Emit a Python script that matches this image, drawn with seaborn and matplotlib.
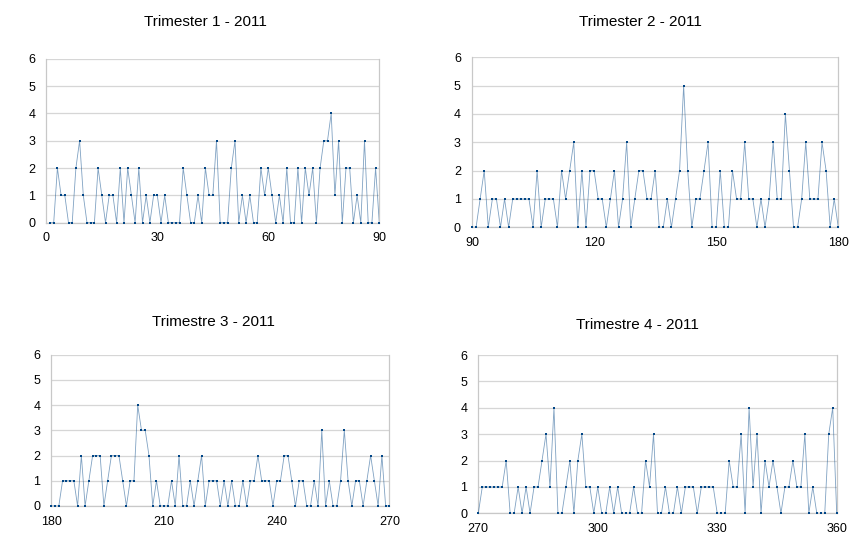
import matplotlib
matplotlib.use("Agg")
import matplotlib.pyplot as plt
import seaborn as sns
import pandas as pd
import numpy as np

# Daily counts per quarter of 2011
days_q1 = list(range(1, 91))
counts_q1 = [0, 0, 2, 1, 1, 0, 0, 2, 3, 1,
             0, 0, 0, 2, 1, 0, 1, 1, 0, 2,
             0, 2, 1, 0, 2, 0, 1, 0, 1, 1,
             0, 1, 0, 0, 0, 0, 2, 1, 0, 0,
             1, 0, 2, 1, 1, 3, 0, 0, 0, 2,
             3, 0, 1, 0, 1, 0, 0, 2, 1, 2,
             1, 0, 1, 0, 2, 0, 0, 2, 0, 2,
             1, 2, 0, 2, 3, 3, 4, 1, 3, 0,
             2, 2, 0, 1, 0, 3, 0, 0, 2, 0]

days_q2 = list(range(90, 181))
counts_q2 = [0, 0, 1, 2, 0, 1, 1, 0, 1, 0, 1, 1, 1, 1, 1, 0, 2, 0, 1, 1, 1, 0, 2, 1, 2, 3, 0, 2,
             0, 2, 2, 1, 1, 0, 1, 2, 0, 1, 3, 0, 1, 2, 2, 1, 1, 2, 0, 0, 1, 0, 1, 2, 5, 2, 0, 1, 1, 2, 3,
             0, 0, 2, 0, 0, 2, 1, 1, 3, 1, 1, 0, 1, 0, 1, 3, 1, 1, 4, 2, 0, 0, 1, 3, 1, 1, 1, 3, 2, 0, 1, 0]

days_q3 = list(range(180, 271))
counts_q3 = [0, 0, 0, 1, 1, 1, 1, 0, 2, 0, 1, 2, 2, 2, 0, 1, 2, 2, 2, 1, 0, 1, 1, 4, 3, 3, 2, 0,
             1, 0, 0, 0, 1, 0, 2, 0, 0, 1, 0, 1, 2, 0, 1, 1, 1, 0, 1, 0, 1, 0, 0, 1, 0, 1, 1, 2, 1, 1, 1,
             0, 1, 1, 2, 2, 1, 0, 1, 1, 0, 0, 1, 0, 3, 0, 1, 0, 0, 1, 3, 1, 0, 1, 1, 0, 1, 2, 1, 0, 2, 0, 0]

days_q4 = list(range(270, 361))
counts_q4 = [0, 1, 1, 1, 1, 1, 1, 2, 0, 0, 1, 0, 1, 0, 1, 1, 2, 3, 1, 4, 0, 0, 1, 2, 0, 2, 3, 1, 1,
             0, 1, 0, 0, 1, 0, 1, 0, 0, 0, 1, 0, 0, 2, 1, 3, 0, 0, 1, 0, 0, 1, 0, 1, 1, 1, 0, 1, 1, 1, 1,
             0, 0, 0, 2, 1, 1, 3, 0, 4, 1, 3, 0, 2, 1, 2, 1, 0, 1, 1, 2, 1, 1, 3, 0, 1, 0, 0, 0, 3, 4, 0]

titles = ["Trimester 1 - 2011", "Trimester 2 - 2011",
          "Trimestre 3 - 2011", "Trimestre 4 - 2011"]
x_ticks = [[0, 30, 60, 90], [90, 120, 150, 180],
           [180, 210, 240, 270], [270, 300, 330, 360]]
y_ticks = [0, 1, 2, 3, 4, 5, 6]

sns.set_theme(style="white")
plt.rcParams["font.family"] = ["Liberation Sans", "DejaVu Sans"]

W, H = 850, 538
fig = plt.figure(figsize=(W / 100, H / 100), dpi=100)

# (left, right, top, bottom) of each plot area in pixels
boxes = [(46.3, 379.3, 58.7, 222.7),
         (472.0, 838.3, 57.3, 227.3),
         (51.3, 389.4, 354.5, 506.0),
         (478.3, 836.7, 355.0, 513.3)]
title_pos = [(205, 22), (640, 22), (213, 322), (637, 325)]

series = [(days_q1, counts_q1), (days_q2, counts_q2),
          (days_q3, counts_q3), (days_q4, counts_q4)]

line_col = "#004586"
grid_col = "#d6d6d6"

for i, ((days, counts), (l, r, t, b)) in enumerate(zip(series, boxes)):
    ax = fig.add_axes([l / W, 1 - b / H, (r - l) / W, (b - t) / H])
    df = pd.DataFrame({"day": days, "count": counts})
    sns.lineplot(data=df, x="day", y="count", ax=ax, color=line_col,
                 linewidth=0.6, alpha=0.5, zorder=3)
    ax.plot(df["day"], df["count"], linestyle="none", marker="s",
            markersize=1.7, color=line_col, markeredgewidth=0, zorder=4,
            clip_on=False)
    ax.set_xlim(x_ticks[i][0], x_ticks[i][-1])
    ax.set_ylim(0, 6)
    ax.set_xticks(x_ticks[i])
    ax.set_yticks(y_ticks)
    ax.set_xlabel("")
    ax.set_ylabel("")
    ax.grid(axis="y", color=grid_col, linewidth=0.9)
    ax.grid(axis="x", visible=False)
    for side in ["left", "bottom", "right", "top"]:
        ax.spines[side].set_color("#c8c8c8")
        ax.spines[side].set_linewidth(0.9)
    ax.spines["top"].set_visible(False)
    ax.tick_params(axis="both", labelsize=9, colors="#b0b0b0",
                   labelcolor="black", length=4, width=0.8, direction="out",
                   pad=3)
    ax.tick_params(axis="y", length=0, pad=8)
    fig.text(title_pos[i][0] / W, 1 - title_pos[i][1] / H, titles[i],
             ha="center", va="center", fontsize=11, color="black")

fig.savefig("out.png", dpi=100, facecolor="white")
